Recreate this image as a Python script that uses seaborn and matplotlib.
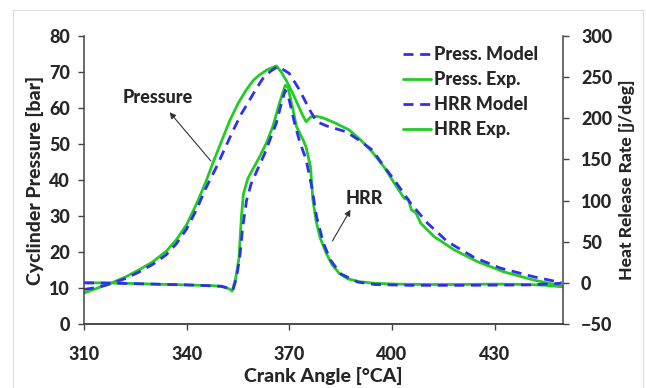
import matplotlib
matplotlib.use("Agg")
import matplotlib.pyplot as plt
from matplotlib.patches import Rectangle
from matplotlib.lines import Line2D
import seaborn as sns
import pandas as pd

# Cylinder pressure, experiment [bar]
crank_p_exp = [310, 314, 318, 322, 326, 330, 334, 337, 340, 343, 345.5, 347.7, 350,
               352.6, 355, 357.4, 359.5, 361.3, 363.5, 365, 366.2, 367.5, 369.2, 371,
               373.9, 374.9, 376.3, 378, 380, 383.5, 387.5, 391, 394.5, 398, 400.7,
               403.6, 404.8, 405.7, 407, 408.4, 412.3, 418.2, 425, 432.7, 441.5, 449.5]
press_exp = [8.6, 10.0, 11.4, 13.0, 15.0, 17.2, 20.2, 23.4, 27.6, 33.6, 39.2, 44.8, 50.3,
             56.5, 61.2, 65.0, 67.7, 69.2, 70.6, 71.2, 71.7, 70.2, 67.5, 64.1,
             58.0, 56.2, 57.5, 57.7, 57.2, 55.8, 53.9, 51.0, 47.5, 43.2, 39.1,
             34.9, 34.6, 31.7, 30.9, 28.0, 24.3, 20.6, 17.3, 14.5, 12.2, 10.6]

# Cylinder pressure, model [bar]
crank_p_mod = [310, 314, 318, 322, 326, 330, 334, 337, 340, 343, 345.5, 348.7, 351, 353.5,
               356, 358.4, 360.5, 362.3, 364.5, 366.6, 367, 370, 373, 376, 378, 381,
               386.6, 390.5, 394.3, 397.5, 400.7, 405.5, 410.4, 416.2, 424, 431.8,
               441.5, 449.5]
press_mod = [9.6, 10.2, 11.2, 12.6, 14.4, 16.5, 19.2, 22.3, 26.4, 32.0, 37.5, 43.6, 48.4,
             53.6, 58.4, 62.2, 65.6, 68.2, 70.2, 71.5, 71.4, 69.6, 65.0, 59.4, 56.2,
             55.0, 53.4, 51.0, 48.3, 44.0, 40.0, 33.5, 28.0, 22.9, 18.5, 15.5, 13.1, 11.5]

# Heat release rate, experiment [J/deg]
crank_h_exp = [310, 320, 330, 340, 348, 351, 352.5, 353.3, 354.3, 355.3, 356, 356.6,
               357.9, 361.3, 363.3, 365.2, 367.1, 368.8, 369.6, 371.1, 372.1, 374,
               374.9, 376.2, 376.9, 377.8, 379, 380.8, 382.5, 384.6, 387, 390.5, 395,
               401, 410, 420, 430, 440, 445, 449.6]
hrr_exp = [0.2, -0.3, -1.5, -2.5, -3.5, -5.0, -7.5, -10.0, 5, 30, 80, 108,
           127, 153, 170, 190, 218, 240, 238, 210, 190, 174,
           165, 141, 101, 76, 55, 36, 22, 11.6, 5, 1.4, -0.5,
           -1.5, -2, -2, -1.5, -2, -3, -4.7]

# Heat release rate, model [J/deg]
crank_h_mod = [310, 320, 330, 340, 350, 352.5, 353.5, 354.5, 355.5, 356.4, 357.5, 358.9,
               362.8, 366.2, 367.5, 368.8, 370, 371.5, 373, 374.9, 376.5, 378, 380,
               382, 385, 390, 395, 405, 420, 440, 449.6]
hrr_mod = [0, -0.5, -1.5, -2.5, -4, -7, -9, 5, 30, 68, 100, 121,
           157, 194, 215, 234, 222, 195, 172, 150, 118, 80, 48,
           28, 11, 1, -2, -3, -3, -2.5, -0.5]

x_ticks = [310, 340, 370, 400, 430]
p_ticks = [0, 10, 20, 30, 40, 50, 60, 70, 80]
h_ticks = [-50, 0, 50, 100, 150, 200, 250, 300]

GREEN = "#22cc22"
BLUE = "#2f2ff0"
DASH = (0, (3.6, 2.4))
SPINE = "#444444"
WEIGHT = 900

sns.set_style("ticks")
plt.rcParams["font.family"] = ["Lato", "DejaVu Sans"]
plt.rcParams["font.weight"] = WEIGHT

fig = plt.figure(figsize=(6.46, 3.88), dpi=100)
ax = fig.add_axes([84 / 646, 1 - 324 / 388, (563 - 84) / 646, (324 - 36) / 388])
ax2 = ax.twinx()

df_pe = pd.DataFrame({"crank": crank_p_exp, "val": press_exp})
df_pm = pd.DataFrame({"crank": crank_p_mod, "val": press_mod})
df_he = pd.DataFrame({"crank": crank_h_exp, "val": hrr_exp})
df_hm = pd.DataFrame({"crank": crank_h_mod, "val": hrr_mod})

sns.lineplot(data=df_pe, x="crank", y="val", ax=ax, color=GREEN, lw=2.0,
             estimator=None, sort=False)
sns.lineplot(data=df_pm, x="crank", y="val", ax=ax, color=BLUE, lw=2.0,
             linestyle=DASH, estimator=None, sort=False)
sns.lineplot(data=df_he, x="crank", y="val", ax=ax2, color=GREEN, lw=2.0,
             estimator=None, sort=False)
sns.lineplot(data=df_hm, x="crank", y="val", ax=ax2, color=BLUE, lw=2.0,
             linestyle=DASH, estimator=None, sort=False)

ax.set_xlim(310, 450)
ax.set_ylim(0, 80)
ax2.set_ylim(-50, 300)
ax.set_xticks(x_ticks)
ax.set_yticks(p_ticks)
ax2.set_yticks(h_ticks)

FS = 13
LFS = 14
for a in (ax, ax2):
    a.spines["top"].set_visible(False)
    for s in ("left", "right", "bottom"):
        a.spines[s].set_color(SPINE)
        a.spines[s].set_linewidth(1.1)
    a.tick_params(axis="both", direction="out", length=4, width=1.0,
                  color=SPINE, labelsize=FS)
    for lab in a.get_xticklabels() + a.get_yticklabels():
        lab.set_fontweight(WEIGHT)
ax.tick_params(axis="x", pad=12)
ax.tick_params(axis="y", pad=6)
ax2.tick_params(axis="y", pad=9)
ax2.spines["left"].set_visible(False)
ax.spines["right"].set_visible(False)

ax.set_xlabel("Crank Angle [°CA]", fontsize=LFS, fontweight=WEIGHT, labelpad=3)
ax.set_ylabel("Cyclinder Pressure [bar]", fontsize=LFS, fontweight=WEIGHT, labelpad=4)
ax2.set_ylabel("Heat Release Rate [j/deg]", fontsize=12.6, fontweight=WEIGHT, labelpad=5)

# Curve annotations
ax.text(331.6, 63, "Pressure", fontsize=FS, fontweight=WEIGHT, ha="center", va="center")
ax.annotate("", xy=(334.5, 59.4), xytext=(347.6, 44.7),
            arrowprops=dict(arrowstyle="-|>", color="#333333", lw=0.8, mutation_scale=9))
ax.text(391.9, 34.9, "HRR", fontsize=FS, fontweight=WEIGHT, ha="center", va="center")
ax.annotate("", xy=(388.3, 32.4), xytext=(382.2, 22.4),
            arrowprops=dict(arrowstyle="-|>", color="#333333", lw=0.8, mutation_scale=9))

handles = [
    Line2D([], [], color=BLUE, lw=2.0, linestyle=DASH),
    Line2D([], [], color=GREEN, lw=2.0),
    Line2D([], [], color=BLUE, lw=2.0, linestyle=DASH),
    Line2D([], [], color=GREEN, lw=2.0),
]
labels = ["Press. Model", "Press. Exp.", "HRR Model", "HRR Exp."]
leg = ax2.legend(handles, labels, loc="upper left",
                 bbox_to_anchor=(403 / 646, 1 - 46 / 388), bbox_transform=fig.transFigure,
                 frameon=False, prop={"weight": WEIGHT, "size": FS},
                 handlelength=1.55, handletextpad=0.17, labelspacing=0.45,
                 borderpad=0, borderaxespad=0)

if ax.get_legend() is not None:
    ax.get_legend().remove()

# Thin frame around the figure
fig.add_artist(Rectangle((13 / 646, -0.05), (643 - 13) / 646, 1.05 - 10 / 388,
                         transform=fig.transFigure, fill=False,
                         edgecolor="#dddddd", lw=0.8))

fig.savefig("out.png", dpi=100)
